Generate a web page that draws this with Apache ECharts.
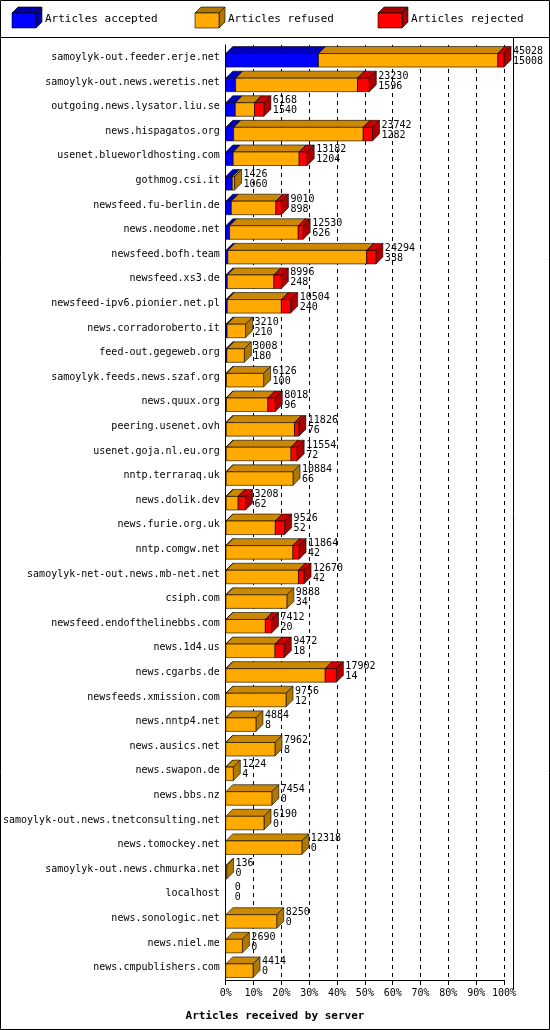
<!DOCTYPE html><html><head><meta charset="utf-8"><script src="https://cdn.jsdelivr.net/npm/echarts@6/dist/echarts.min.js"></script></head><body style="margin:0;background:#fff"><div id="c" style="width:550px;height:1030px"></div><script>
const servers=["samoylyk-out.feeder.erje.net","samoylyk-out.news.weretis.net","outgoing.news.lysator.liu.se","news.hispagatos.org","usenet.blueworldhosting.com","gothmog.csi.it","newsfeed.fu-berlin.de","news.neodome.net","newsfeed.bofh.team","newsfeed.xs3.de","newsfeed-ipv6.pionier.net.pl","news.corradoroberto.it","feed-out.gegeweb.org","samoylyk.feeds.news.szaf.org","news.quux.org","peering.usenet.ovh","usenet.goja.nl.eu.org","nntp.terraraq.uk","news.dolik.dev","news.furie.org.uk","nntp.comgw.net","samoylyk-net-out.news.mb-net.net","csiph.com","newsfeed.endofthelinebbs.com","news.1d4.us","news.cgarbs.de","newsfeeds.xmission.com","news.nntp4.net","news.ausics.net","news.swapon.de","news.bbs.nz","samoylyk-out.news.tnetconsulting.net","news.tomockey.net","samoylyk-out.news.chmurka.net","localhost","news.sonologic.net","news.niel.me","news.cmpublishers.com"];
const totals=[45028,23230,6168,23742,13182,1426,9010,12530,24294,8996,10504,3210,3008,6126,8018,11826,11554,10884,3208,9526,11864,12670,9888,7412,9472,17902,9756,4884,7962,1224,7454,6190,12318,136,0,8250,2690,4414];
const accepted=[15008,1596,1540,1282,1204,1060,898,626,338,248,240,210,180,100,96,76,72,66,62,52,42,42,34,20,18,14,12,8,8,4,0,0,0,0,0,0,0,0];
const rejected=[1000,1900,1500,1500,1300,0,900,800,1500,1200,1500,0,0,0,1200,700,1000,0,1200,1500,1000,900,0,1000,1500,1800,0,0,0,0,0,0,0,0,0,0,0,0];
const xTicks=["0%","10%","20%","30%","40%","50%","60%","70%","80%","90%","100%"];
const maxV=totals[0];
const pct=v=>v/maxV*100;
const segA=[],segR=[],segJ=[];
servers.forEach((s,i)=>{const a=accepted[i],j=rejected[i],r=totals[i]-a-j;
segA.push([0,pct(a),i]);segR.push([pct(a),pct(a+r),i]);segJ.push([pct(a+r),pct(totals[i]),i]);});
const D=7;
function mk(front,top,side){return function(p,api){const s=api.value(0),e=api.value(1),i=api.value(2);
if(e-s<=0.0001)return;const p0=api.coord([s,i]),p1=api.coord([e,i]);const h=api.size([0,1])[1]*0.55;
const x0=p0[0],x1=p1[0],y0=p0[1]-h/2+3,y1=y0+h;const st={stroke:'#000',lineWidth:0.6};
return {type:'group',children:[
{type:'polygon',shape:{points:[[x0,y0],[x0+D,y0-D],[x1+D,y0-D],[x1,y0]]},style:Object.assign({fill:top},st)},
{type:'polygon',shape:{points:[[x1,y0],[x1+D,y0-D],[x1+D,y1-D],[x1,y1]]},style:Object.assign({fill:side},st)},
{type:'rect',shape:{x:x0,y:y0,width:x1-x0,height:h},style:Object.assign({fill:front},st)}]};};}
const ch=echarts.init(document.getElementById('c'));
const F='DejaVu Sans Mono';
ch.setOption({animation:false,
graphic:[{type:'rect',shape:{x:0.5,y:0.5,width:549,height:1029},style:{fill:'none',stroke:'#000'}},
{type:'line',shape:{x1:0,y1:37.5,x2:550,y2:37.5},style:{stroke:'#000'}},
{type:'line',shape:{x1:513.5,y1:37,x2:513.5,y2:990},style:{stroke:'#000'}},
...[[12,'#0000ff','#0000aa','Articles accepted'],[195,'#ffaa00','#b07800','Articles refused'],[378,'#ff0000','#aa0000','Articles rejected']].flatMap(([x,c,d,t])=>[
{type:'polygon',shape:{points:[[x,13],[x+6,7],[x+30,7],[x+24,13]]},style:{fill:d,stroke:'#000',lineWidth:0.6}},
{type:'polygon',shape:{points:[[x+24,13],[x+30,7],[x+30,22],[x+24,28]]},style:{fill:d,stroke:'#000',lineWidth:0.6}},
{type:'rect',shape:{x:x,y:13,width:24,height:15},style:{fill:c,stroke:'#000',lineWidth:0.6}},
{type:'text',x:x+33,y:14,style:{text:t,font:'11px '+F,fill:'#000'}}]),
{type:'text',left:'center',top:1011,style:{text:'Articles received by server',font:'bold 11px '+F,fill:'#000'}}],
grid:{left:225,right:46,top:45,bottom:50},
xAxis:{type:'value',min:0,max:100,interval:10,axisLine:{show:true,lineStyle:{color:'#000'}},axisTick:{show:true,lineStyle:{color:'#000'}},
axisLabel:{formatter:(v)=>xTicks[Math.round(v/10)],font:'10px '+F,color:'#000',fontFamily:F,fontSize:10},
splitLine:{show:true,lineStyle:{color:'#000',type:[4,4]}}},
yAxis:{type:'category',data:servers,inverse:true,axisLine:{lineStyle:{color:'#000'}},axisTick:{show:false},
axisLabel:{color:'#000',fontFamily:F,fontSize:10,margin:6}},
series:[
{type:'custom',renderItem:mk('#0000ff','#0000bb','#0000aa'),data:segA,encode:{x:[0,1],y:2}},
{type:'custom',renderItem:mk('#ffaa00','#cc8800','#b07800'),data:segR,encode:{x:[0,1],y:2}},
{type:'custom',renderItem:mk('#ff0000','#cc0000','#aa0000'),data:segJ,encode:{x:[0,1],y:2}},
{type:'custom',data:servers.map((s,i)=>[pct(totals[i]),i,totals[i],accepted[i]]),encode:{x:0,y:1},
renderItem:(p,api)=>{const c=api.coord([api.value(0),api.value(1)]);
return {type:'text',x:Math.min(c[0]+D+2,516),y:c[1]-11,style:{text:api.value(2)+'\n'+api.value(3),font:'10px '+F,fill:'#000',lineHeight:10}};}}
]});
</script></body></html>
